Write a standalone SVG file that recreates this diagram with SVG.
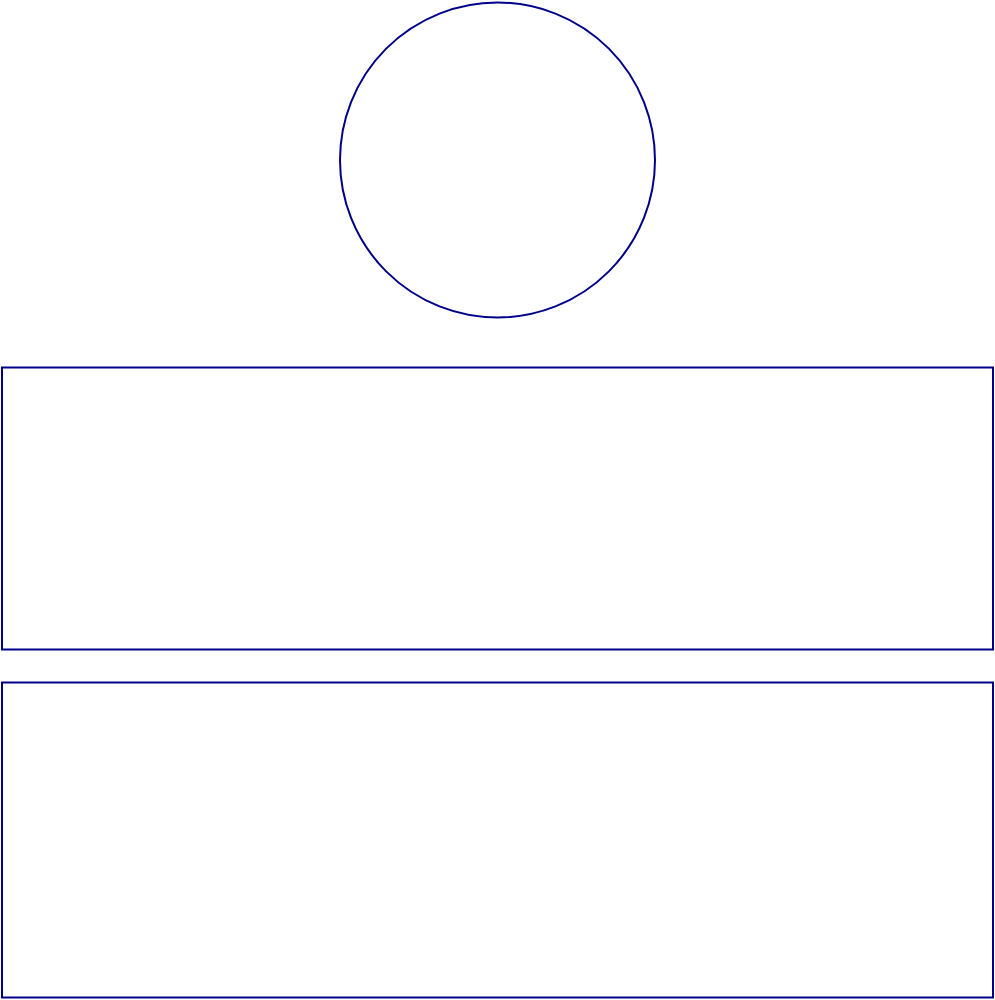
<svg xmlns="http://www.w3.org/2000/svg" width="995" height="1000" viewBox="0 0 995 1000">
<style>
.shape{fill:#ffffff;stroke:#00008b;stroke-width:2}
</style>
<rect x="0" y="0" width="995" height="1000" fill="#ffffff"/>
<g id="circle"><circle class="shape" cx="497.5" cy="160" r="157.5"/></g>
<g id="box1"><rect class="shape" x="2" y="367.5" width="991" height="282"/></g>
<g id="box2"><rect class="shape" x="2" y="682.5" width="991" height="315"/></g>
<g id="connectors"></g>
</svg>
